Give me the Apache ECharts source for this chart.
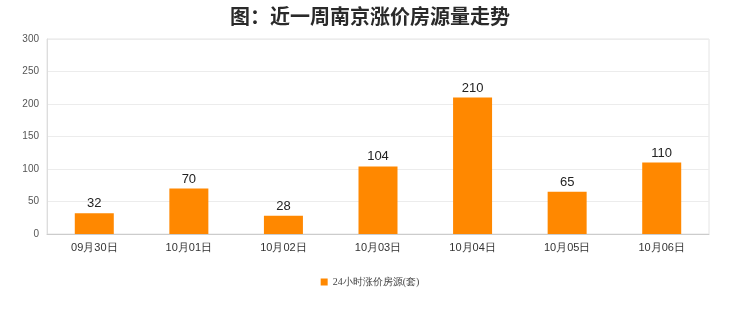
<!DOCTYPE html>
<html lang="zh-CN">
<head>
    <meta charset="UTF-8">
    <title>近一周南京涨价房源量走势</title>
    <script src="https://cdn.jsdelivr.net/npm/echarts@6/dist/echarts.min.js"></script>
    <style>
        * { margin: 0; padding: 0; }
        body { background: #fff; }
        #main { width: 740px; height: 312px; }
    </style>
</head>
<body>
    <div id="main"></div>
<script>
    // 数据
    var days = ['09月30日', '10月01日', '10月02日', '10月03日', '10月04日', '10月05日', '10月06日'];
    var rising = [32, 70, 28, 104, 210, 65, 110];
    var seriesName = '24小时涨价房源(套)';

    var myChart = echarts.init(document.getElementById('main'));

    var option = {
        backgroundColor: '#fff',
        animation: false,
        title: {
            text: '图：近一周南京涨价房源量走势',
            left: 'center',
            top: 1,
            textStyle: {
                fontSize: 20,
                fontWeight: 'bold',
                color: '#2a2a2a',
                fontFamily: 'Noto Sans CJK SC'
            }
        },
        legend: {
            bottom: 20,
            left: 'center',
            itemWidth: 7,
            itemHeight: 7,
            icon: 'rect',
            textStyle: { fontSize: 10, color: '#444', fontFamily: 'serif' },
            data: [seriesName]
        },
        grid: {
            left: 47,
            right: 31,
            top: 39,
            bottom: 78,
            show: true,
            borderColor: '#e4e4e4'
        },
        xAxis: {
            type: 'category',
            data: days,
            axisLine: { lineStyle: { color: '#ccc' } },
            axisTick: { show: false },
            axisLabel: { color: '#333', fontSize: 11, margin: 8 },
        },
        yAxis: {
            type: 'value',
            min: 0,
            max: 300,
            interval: 50,
            axisLine: { show: true, lineStyle: { color: '#ddd' } },
            axisTick: { show: false },
            axisLabel: { color: '#555', fontSize: 10, margin: 8 },
            splitLine: { lineStyle: { color: '#ececec' } }
        },
        series: [{
            name: seriesName,
            type: 'bar',
            data: rising,
            barWidth: 39,
            itemStyle: { color: '#ff8800' },
            label: {
                show: true,
                position: 'top',
                distance: 3,
                fontSize: 13,
                color: '#222'
            }
        }]
    };
    myChart.setOption(option);
</script>
</body>
</html>
